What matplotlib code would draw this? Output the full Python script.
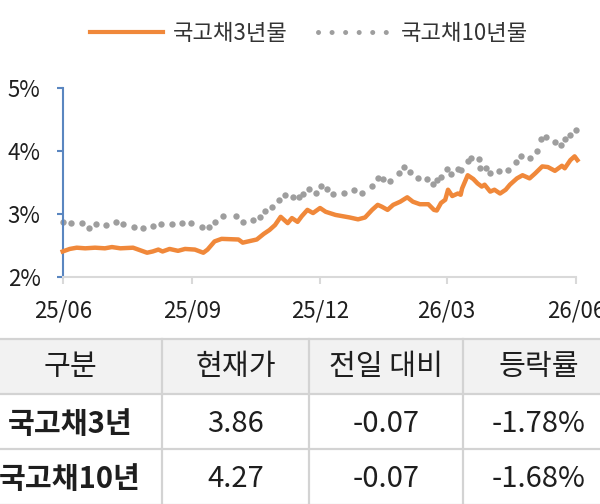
import numpy as np
import pandas as pd
import matplotlib
matplotlib.use('Agg')
import matplotlib.pyplot as plt
from matplotlib.lines import Line2D
from matplotlib.patches import Rectangle
import matplotlib.dates as mdates

plt.rcParams['font.family'] = ['Noto Sans CJK KR', 'DejaVu Sans']

# 데이터
start = pd.Timestamp('2025-06-01')

# 국고채 3년물: 시작일로부터 경과일, 금리(%)
days_3y = [0, 5, 10, 16, 23, 30, 35, 41, 50, 55, 60, 64, 68, 71, 76, 82, 87, 94,
           100, 103, 108, 113, 125, 128, 132, 138, 143, 147, 151, 155, 160, 163,
           167, 170, 174, 178, 183, 187, 194, 199, 204, 210, 215, 220, 224, 227,
           231, 235, 240, 245, 249, 254, 260, 264, 266, 269, 272, 274, 277, 281,
           283, 284, 288, 292, 295, 298, 300, 304, 307, 311, 315, 318, 323, 327,
           332, 336, 341, 345, 350, 355, 357, 361, 364, 366]
rate_3y = [2.41, 2.45, 2.47, 2.46, 2.47, 2.46, 2.48, 2.46, 2.47, 2.43, 2.39, 2.41,
           2.44, 2.41, 2.45, 2.42, 2.45, 2.44, 2.39, 2.44, 2.57, 2.61, 2.60, 2.55,
           2.57, 2.60, 2.69, 2.75, 2.83, 2.96, 2.86, 2.94, 2.88, 2.97, 3.07, 3.02,
           3.10, 3.04, 2.99, 2.97, 2.95, 2.92, 2.95, 3.07, 3.15, 3.12, 3.07, 3.15,
           3.20, 3.27, 3.20, 3.16, 3.16, 3.07, 3.06, 3.18, 3.23, 3.39, 3.29, 3.33,
           3.31, 3.41, 3.62, 3.56, 3.49, 3.44, 3.47, 3.36, 3.39, 3.33, 3.39, 3.47,
           3.57, 3.62, 3.57, 3.65, 3.76, 3.75, 3.69, 3.77, 3.73, 3.86, 3.92, 3.86]

# 국고채 10년물
days_10y = [0, 6, 14, 19, 24, 31, 38, 43, 51, 57, 64, 70, 78, 85, 91, 99, 104,
            108, 114, 123, 128, 135, 140, 144, 149, 154, 158, 164, 168, 171, 175,
            180, 184, 188, 192, 200, 207, 213, 220, 224, 228, 233, 239, 243, 247,
            253, 259, 263, 266, 269, 273, 276, 281, 283, 288, 290, 296, 297, 301,
            304, 310, 317, 322, 326, 332, 337, 340, 344, 350, 354, 357, 361, 365]
rate_10y = [2.87, 2.86, 2.86, 2.78, 2.85, 2.83, 2.88, 2.84, 2.80, 2.79, 2.81, 2.84,
            2.84, 2.86, 2.86, 2.80, 2.80, 2.88, 2.97, 2.97, 2.88, 2.91, 2.95, 3.06,
            3.11, 3.23, 3.31, 3.28, 3.27, 3.32, 3.40, 3.34, 3.45, 3.40, 3.33, 3.34,
            3.38, 3.34, 3.45, 3.58, 3.56, 3.53, 3.65, 3.75, 3.67, 3.57, 3.56, 3.48,
            3.55, 3.60, 3.72, 3.64, 3.72, 3.70, 3.85, 3.89, 3.88, 3.74, 3.74, 3.65,
            3.68, 3.70, 3.83, 3.93, 3.89, 4.01, 4.19, 4.22, 4.14, 4.10, 4.20, 4.26,
            4.34]

series_names = ['국고채3년물', '국고채10년물']
x_ticks = ['2025-06-01', '2025-09-01', '2025-12-01', '2026-03-01', '2026-06-01']
y_ticks = [2, 3, 4, 5]

# 표 데이터
table_header = ['구분', '현재가', '전일 대비', '등락률']
table_names = ['국고채3년', '국고채10년']
table_price = ['3.86', '4.27']
table_change = ['-0.07', '-0.07']
table_pct = ['-1.78%', '-1.68%']

orange = '#f0883a'
gray = '#9e9e9e'
blue = '#5a86c0'
text_color = '#1e1e1e'

dates_3y = start + pd.to_timedelta(days_3y, unit='D')
dates_10y = start + pd.to_timedelta(days_10y, unit='D')

fig = plt.figure(figsize=(6, 5.04), dpi=100)
ax = fig.add_axes([0.1045, 0.4498, 0.8555, 0.375])

ax.plot(dates_3y, rate_3y, color=orange, lw=3.2, solid_joinstyle='round',
        clip_on=False, zorder=3)
ax.plot(dates_10y, rate_10y, linestyle='none', marker='o', ms=4.6,
        markerfacecolor=gray, markeredgecolor='none', clip_on=False, zorder=2)

ax.set_xlim(pd.Timestamp(x_ticks[0]), pd.Timestamp(x_ticks[-1]))
ax.set_ylim(2, 5)
ax.set_xticks(pd.to_datetime(x_ticks))
ax.xaxis.set_major_formatter(mdates.DateFormatter('%y/%m'))
ax.set_yticks(y_ticks)
ax.set_yticklabels([f'{v}%' for v in y_ticks])

for s in ['top', 'right']:
    ax.spines[s].set_visible(False)
ax.spines['left'].set_color(blue)
ax.spines['left'].set_linewidth(1.5)
ax.spines['bottom'].set_color('#d9d9d9')
ax.spines['bottom'].set_linewidth(1.5)
ax.tick_params(axis='y', direction='out', length=4, width=1.5, color=blue,
               labelsize=16, labelcolor=text_color, pad=12)
ax.tick_params(axis='x', direction='out', length=5, width=1.5, color='#d9d9d9',
               labelsize=16, labelcolor=text_color, pad=11)

handles = [Line2D([], [], color=orange, lw=3),
           Line2D([], [], color=gray, lw=3.6, linestyle=(0, (0.01, 2.7)),
                  dash_capstyle='round')]
leg = ax.legend(handles, series_names, loc='center', bbox_to_anchor=(0.515, 0.9345),
                bbox_transform=fig.transFigure, ncol=2, frameon=False, fontsize=16,
                handlelength=3.3, handletextpad=0.4, columnspacing=1.4)
for t in leg.get_texts():
    t.set_color('#333333')

# 표 (픽셀 좌표계)
tb = fig.add_axes([0, 0, 1, 1])
tb.set_xlim(0, 600)
tb.set_ylim(504, 0)
tb.axis('off')

row_edges = [339.3, 394, 449.3, 504.6]
col_edges = [-21.7, 161.7, 309, 462.7, 615]
line_color = '#d3d3d3'

tb.add_patch(Rectangle((-30, row_edges[0]), 660, row_edges[1] - row_edges[0],
                       facecolor='#f2f2f2', edgecolor='none'))
for y in row_edges:
    tb.plot([-30, 630], [y, y], color=line_color, lw=1.6, clip_on=False)
for x in col_edges[1:-1]:
    tb.plot([x, x], [row_edges[0], row_edges[-1]], color=line_color, lw=1.6,
            clip_on=False)

centers_x = [(col_edges[i] + col_edges[i + 1]) / 2 for i in range(4)]
centers_y = [(row_edges[i] + row_edges[i + 1]) / 2 for i in range(3)]

for i, h in enumerate(table_header):
    tb.text(centers_x[i], centers_y[0], h, ha='center', va='center',
            fontsize=21, color=text_color, fontweight='medium')
for r in range(2):
    cells = [table_names[r], table_price[r], table_change[r], table_pct[r]]
    for i, c in enumerate(cells):
        tb.text(centers_x[i], centers_y[r + 1] + 2, c, ha='center', va='center',
                fontsize=21, color=text_color,
                fontweight='bold' if i == 0 else 'normal')

fig.savefig('out.png', dpi=100)
